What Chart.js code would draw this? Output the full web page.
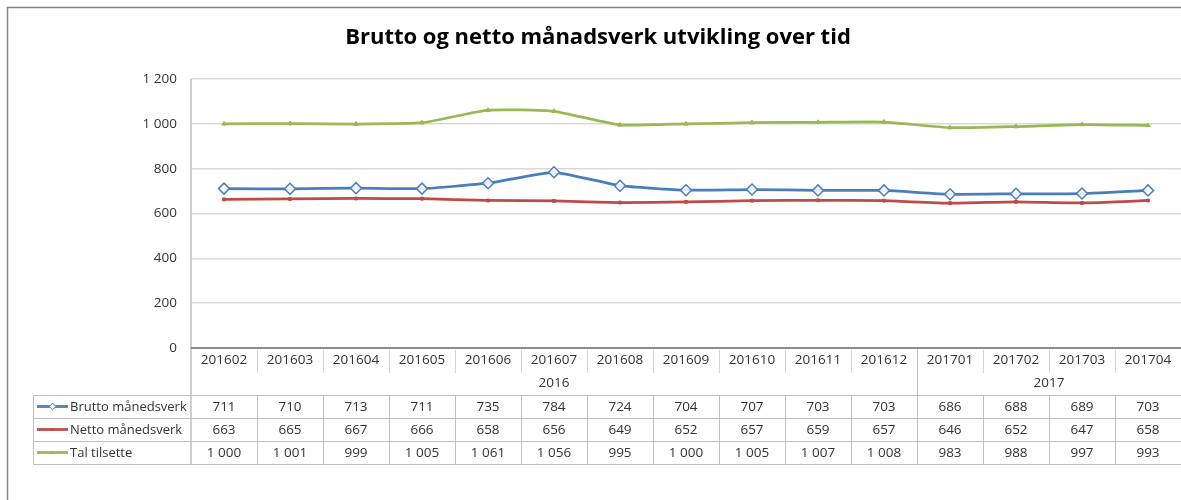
<!DOCTYPE html>
<html><head><meta charset="utf-8">
<script src="https://cdn.jsdelivr.net/npm/chart.js@4/dist/chart.umd.min.js"></script>
<style>html,body{margin:0;padding:0;background:#fff;overflow:hidden}</style>
</head><body>
<canvas id="c" width="1181" height="500"></canvas>
<script>
const chartTitle = 'Brutto og netto månadsverk utvikling over tid';
const categories = ['201602','201603','201604','201605','201606','201607','201608','201609','201610','201611','201612','201701','201702','201703','201704'];
const yearLabels = ['2016','2017'];
const yearSpans = [11, 4];
const seriesNames = ['Brutto månedsverk','Netto månedsverk','Tal tilsette'];
const brutto   = [711,710,713,711,735,784,724,704,707,703,703,686,688,689,703];
const netto    = [663,665,667,666,658,656,649,652,657,659,657,646,652,647,658];
const tilsette = [1000,1001,999,1005,1061,1056,995,1000,1005,1007,1008,983,988,997,993];
const yTickValues = [0,200,400,600,800,1000,1200];

const FONT = '"Open Sans", "Liberation Sans", sans-serif';
const TXT = '#333333';
const colors = ['#4A7EBB','#BE4B48','#98B954'];
const seriesData = [brutto, netto, tilsette];
const fmt = v => String(v).replace(/\B(?=(\d{3})+(?!\d))/g, ' ');

const pointStyles = [
  {pointStyle:'rectRot', pointRadius:5.5, pointBorderWidth:1.5, pointBackgroundColor:'rgba(255,255,255,0.85)'},
  {pointStyle:'rect', pointRadius:2, pointBorderWidth:1, pointBackgroundColor:colors[1]},
  {pointStyle:'triangle', pointRadius:2.5, pointBorderWidth:1, pointBackgroundColor:colors[2]}
];

function drawMarker(ctx, i, x, y) {
  const ps = pointStyles[i];
  Chart.helpers.drawPoint(ctx, {pointStyle: ps.pointStyle, radius: ps.pointRadius * 0.6, borderWidth: 1, rotation: 0}, x, y);
}

const tablePlugin = {
  id: 'tablePlugin',
  afterDraw(chart) {
    const ctx = chart.ctx;
    const xs = chart.scales.x;
    const a = chart.chartArea;
    const n = categories.length;
    const colW = xs.getPixelForValue(1) - xs.getPixelForValue(0);
    const edge = i => xs.getPixelForValue(0) - colW / 2 + i * colW;
    const yHead = a.bottom, yYear = yHead + 24, yData = yYear + 23, rowH = 23;
    const yEnd = yData + rowH * 3;
    const tableLeft = 33;
    ctx.save();
    // outer frame
    ctx.strokeStyle = '#878787'; ctx.lineWidth = 1.5;
    ctx.beginPath(); ctx.moveTo(7.5, 500); ctx.lineTo(7.5, 7.5); ctx.lineTo(1181, 7.5); ctx.stroke();
    // title
    ctx.fillStyle = '#000'; ctx.font = 'bold 22px ' + FONT;
    ctx.textAlign = 'center'; ctx.textBaseline = 'middle';
    ctx.fillText(chartTitle, 598, 38);
    // plot left axis line
    ctx.strokeStyle = '#bfbfbf'; ctx.lineWidth = 1.5;
    ctx.beginPath(); ctx.moveTo(a.left, a.top); ctx.lineTo(a.left, yEnd); ctx.stroke();
    // header separators
    ctx.strokeStyle = '#d4d4d4'; ctx.lineWidth = 1;
    for (let i = 1; i < n; i++) {
      if (i === yearSpans[0]) continue;
      const x = Math.round(edge(i)) + 0.5;
      ctx.beginPath(); ctx.moveTo(x, yHead + 2); ctx.lineTo(x, yYear + 1); ctx.stroke();
    }
    // year boundaries
    ctx.strokeStyle = '#bfbfbf';
    let acc = 0;
    for (let k = 0; k < yearSpans.length - 1; k++) {
      acc += yearSpans[k];
      const x = Math.round(edge(acc)) + 0.5;
      ctx.beginPath(); ctx.moveTo(x, yHead); ctx.lineTo(x, yEnd); ctx.stroke();
    }
    // data grid
    for (let r = 0; r <= 3; r++) {
      const y = Math.round(yData + r * rowH) + 0.5;
      ctx.beginPath(); ctx.moveTo(tableLeft, y); ctx.lineTo(1181, y); ctx.stroke();
    }
    ctx.beginPath(); ctx.moveTo(tableLeft + 0.5, yData); ctx.lineTo(tableLeft + 0.5, yEnd); ctx.stroke();
    for (let i = 1; i < n; i++) {
      const x = Math.round(edge(i)) + 0.5;
      ctx.beginPath(); ctx.moveTo(x, yData); ctx.lineTo(x, yEnd); ctx.stroke();
    }
    // x axis line
    ctx.strokeStyle = '#8c8c8c'; ctx.lineWidth = 2;
    ctx.beginPath(); ctx.moveTo(a.left, yHead); ctx.lineTo(a.right, yHead); ctx.stroke();
    // category labels
    ctx.fillStyle = TXT; ctx.font = '13.5px ' + FONT;
    ctx.textAlign = 'center'; ctx.textBaseline = 'middle';
    categories.forEach((c, i) => ctx.fillText(c, xs.getPixelForValue(i), yHead + 12));
    // year labels
    acc = 0;
    yearLabels.forEach((yl, k) => {
      const x0 = edge(acc), x1 = edge(acc + yearSpans[k]);
      ctx.fillText(yl, (x0 + x1) / 2, yYear + 11);
      acc += yearSpans[k];
    });
    // data rows
    seriesData.forEach((arr, r) => {
      const cy = yData + r * rowH + rowH / 2;
      ctx.font = '13.5px ' + FONT;
      arr.forEach((v, i) => {
        ctx.fillStyle = TXT; ctx.textAlign = 'center';
        ctx.fillText(fmt(v), xs.getPixelForValue(i), cy + 0.5);
      });
      // legend key
      ctx.strokeStyle = colors[r]; ctx.lineWidth = 2.75;
      ctx.beginPath(); ctx.moveTo(37, cy); ctx.lineTo(68, cy); ctx.stroke();
      ctx.lineWidth = 1;
      ctx.fillStyle = r === 0 ? '#fff' : colors[r];
      drawMarker(ctx, r, 52.5, cy);
      ctx.fillStyle = TXT; ctx.textAlign = 'left';
      ctx.font = '13px ' + FONT;
      ctx.fillText(seriesNames[r], 70, cy + 0.5);
    });
    ctx.restore();
  }
};

const datasets = seriesData.map((d, i) => Object.assign({
  label: seriesNames[i],
  data: d,
  borderColor: colors[i],
  backgroundColor: colors[i],
  pointBorderColor: colors[i],
  borderWidth: 2.75,
  tension: 0.15,
  fill: false
}, pointStyles[i]));
datasets[0].order = 0; datasets[1].order = 1; datasets[2].order = 2;

new Chart(document.getElementById('c'), {
  type: 'line',
  data: { labels: categories, datasets },
  options: {
    responsive: false,
    devicePixelRatio: 1,
    animation: false,
    layout: { autoPadding: false, padding: { top: 79, left: 0, right: 0, bottom: 0 } },
    plugins: { legend: { display: false }, tooltip: { enabled: false }, title: { display: false } },
    scales: {
      x: {
        type: 'category', offset: true,
        grid: { display: false }, border: { display: false },
        ticks: { display: false },
        afterFit: s => { s.height = 152; }
      },
      y: {
        min: 0, max: 1200,
        afterBuildTicks: s => { s.ticks = yTickValues.map(v => ({ value: v })); },
        ticks: { callback: v => fmt(v), color: TXT, font: { family: FONT, size: 13.5 }, padding: 14 },
        grid: { color: '#d9d9d9', lineWidth: 1.5, drawTicks: false },
        border: { display: false },
        afterFit: s => { s.width = 191; }
      }
    }
  },
  plugins: [tablePlugin]
});
</script>
</body></html>
